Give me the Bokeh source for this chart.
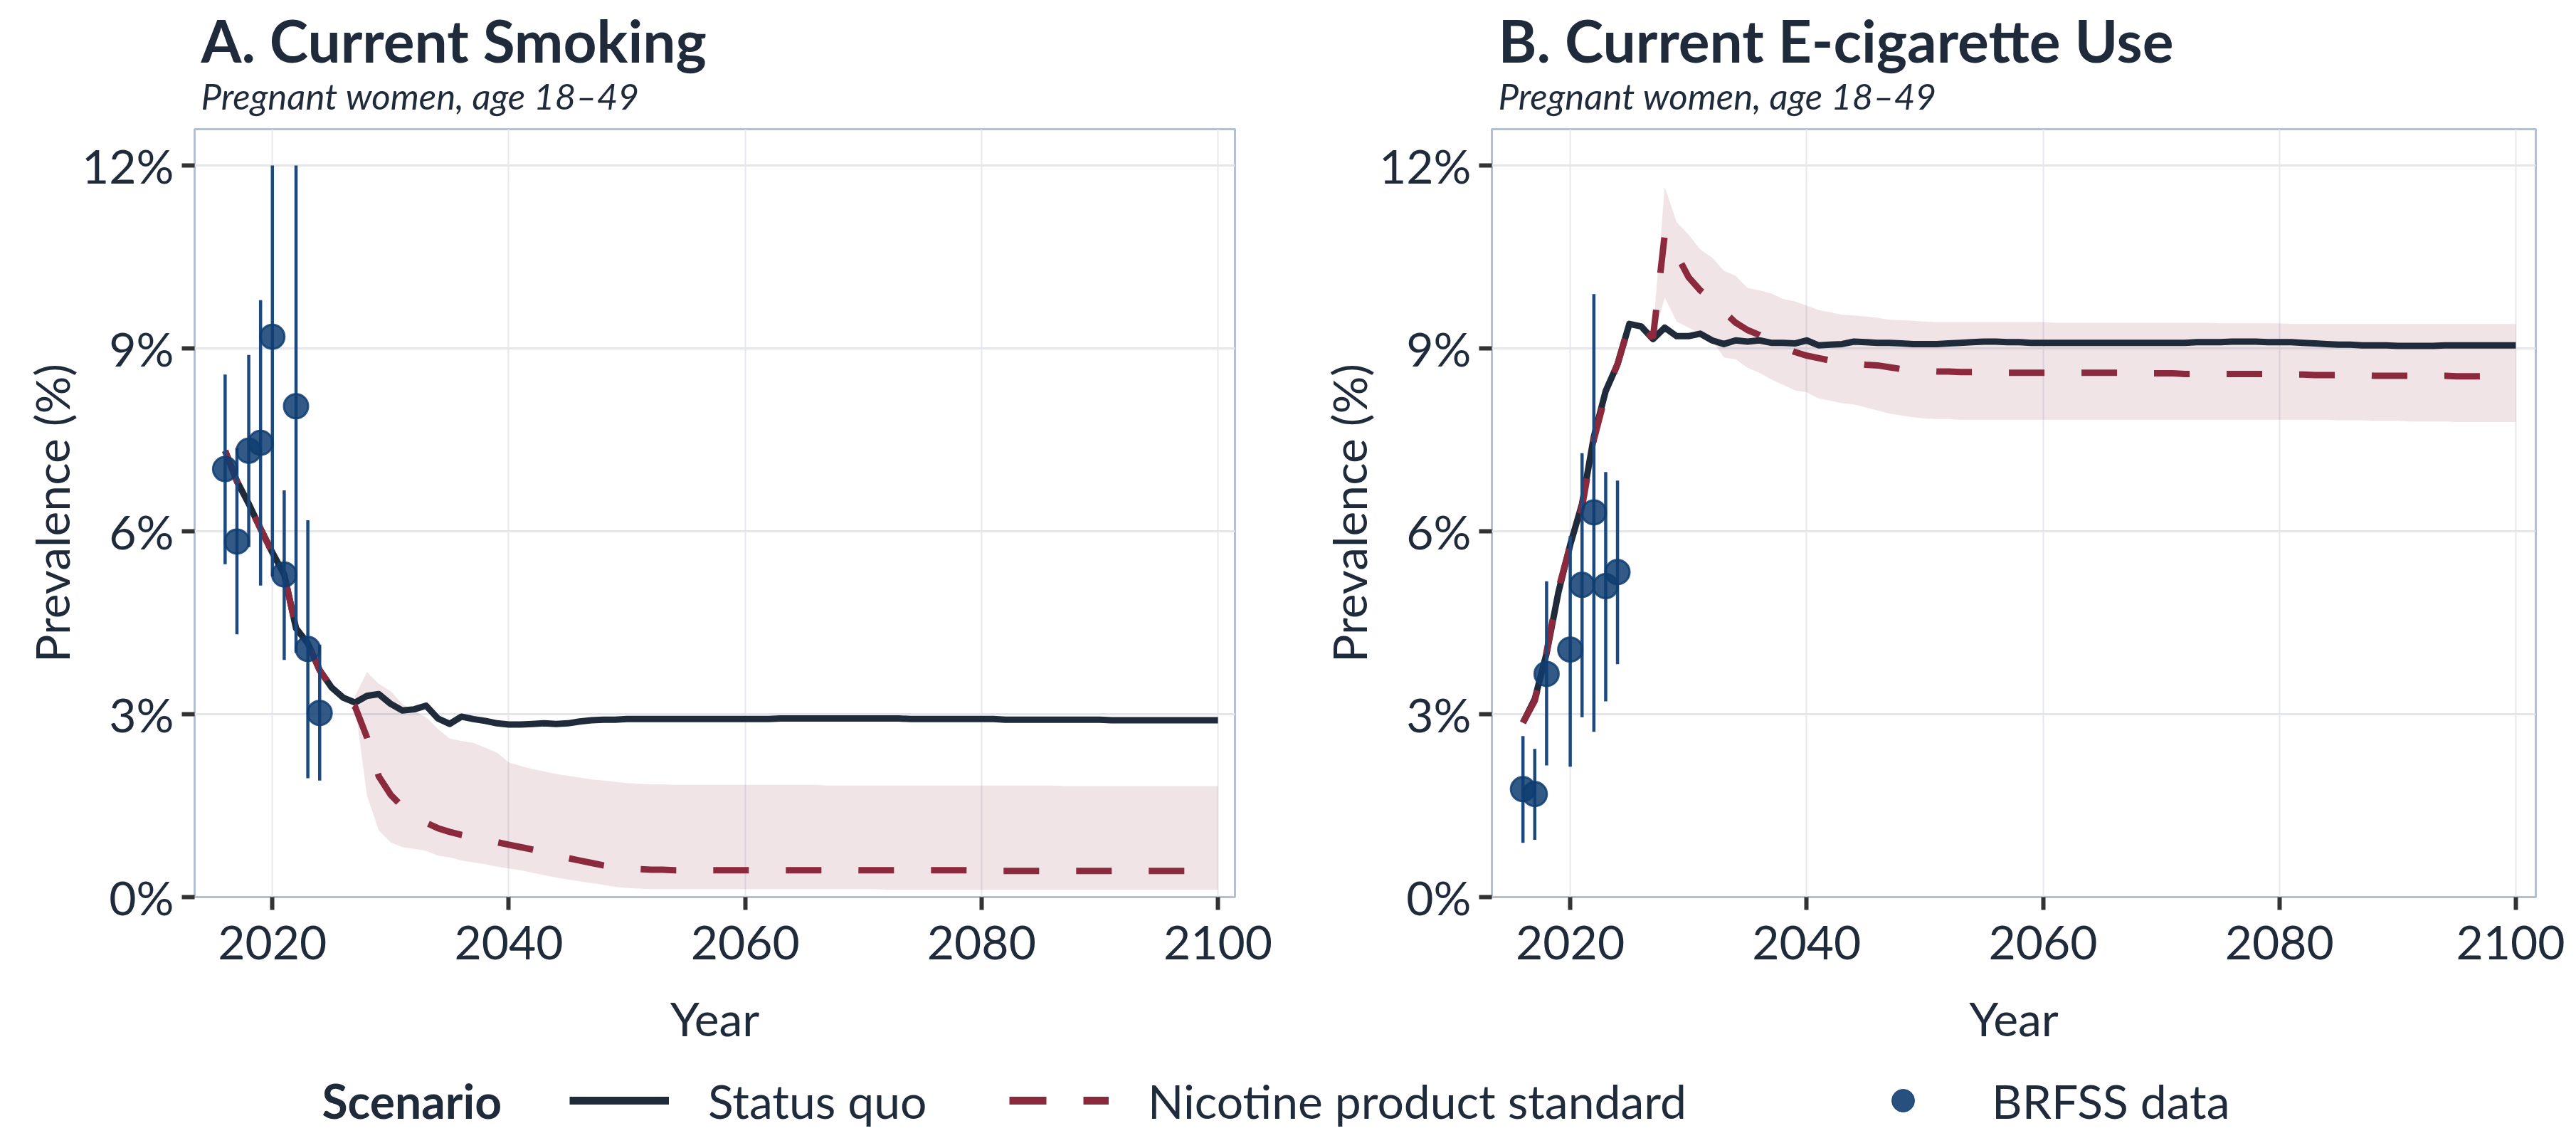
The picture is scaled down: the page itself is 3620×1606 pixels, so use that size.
from bokeh.plotting import figure
from bokeh.models import (Range1d, FixedTicker, PrintfTickFormatter, Title, Legend,
                          LegendItem, Label)
from bokeh.layouts import column, row
from bokeh.embed import file_html
from bokeh.resources import INLINE

# ---------------- data ----------------
years = list(range(2016, 2101))
band_years = list(range(2027, 2101))
x_ticks = [2020, 2040, 2060, 2080, 2100]
y_ticks = [0, 3, 6, 9, 12]

sq_smoking = [
    7.32, 6.82, 6.45, 6.04, 5.65, 5.29, 4.41, 4.16, 3.72, 3.44,
    3.27, 3.19, 3.30, 3.33, 3.17, 3.06, 3.08, 3.14, 2.93, 2.84,
    2.96, 2.92, 2.89, 2.85, 2.83, 2.83, 2.84, 2.85, 2.84, 2.85,
    2.88, 2.90, 2.91, 2.91, 2.92, 2.92, 2.92, 2.92, 2.92, 2.92,
    2.92, 2.92, 2.92, 2.92, 2.92, 2.92, 2.92, 2.93, 2.93, 2.93,
    2.93, 2.93, 2.93, 2.93, 2.93, 2.93, 2.93, 2.93, 2.92, 2.92,
    2.92, 2.92, 2.92, 2.92, 2.92, 2.92, 2.91, 2.91, 2.91, 2.91,
    2.91, 2.91, 2.91, 2.91, 2.91, 2.90, 2.90, 2.90, 2.90, 2.90,
    2.90, 2.90, 2.90, 2.90, 2.90]
nps_smoking = [
    7.32, 6.82, 6.45, 6.04, 5.65, 5.29, 4.41, 4.16, 3.72, 3.44,
    3.27, 3.12, 2.62, 1.98, 1.68, 1.48, 1.34, 1.22, 1.13, 1.07,
    1.02, 0.98, 0.94, 0.90, 0.86, 0.82, 0.78, 0.74, 0.69, 0.64,
    0.60, 0.56, 0.52, 0.49, 0.47, 0.46, 0.45, 0.45, 0.44, 0.44,
    0.44, 0.44, 0.44, 0.44, 0.44, 0.44, 0.44, 0.44, 0.44, 0.44,
    0.44, 0.44, 0.44, 0.44, 0.44, 0.44, 0.44, 0.44, 0.44, 0.44,
    0.44, 0.44, 0.44, 0.44, 0.43, 0.43, 0.43, 0.43, 0.43, 0.43,
    0.43, 0.43, 0.43, 0.43, 0.43, 0.43, 0.43, 0.43, 0.43, 0.43,
    0.43, 0.43, 0.43, 0.43, 0.43]
smoking_lo = [
    3.12, 1.67, 1.09, 0.90, 0.82, 0.79, 0.76, 0.68, 0.65, 0.60,
    0.57, 0.54, 0.50, 0.47, 0.44, 0.40, 0.36, 0.32, 0.29, 0.26,
    0.23, 0.20, 0.17, 0.15, 0.14, 0.13, 0.13, 0.13, 0.13, 0.13,
    0.13, 0.13, 0.13, 0.13, 0.13, 0.13, 0.13, 0.13, 0.13, 0.13,
    0.13, 0.13, 0.13, 0.13, 0.13, 0.12, 0.12, 0.12, 0.12, 0.12,
    0.12, 0.12, 0.12, 0.12, 0.12, 0.12, 0.12, 0.12, 0.12, 0.12,
    0.12, 0.12, 0.12, 0.12, 0.12, 0.12, 0.12, 0.12, 0.12, 0.12,
    0.12, 0.12, 0.12, 0.12]
smoking_hi = [
    3.30, 3.69, 3.50, 3.38, 3.17, 3.05, 2.95, 2.76, 2.60, 2.56,
    2.53, 2.45, 2.37, 2.21, 2.15, 2.10, 2.06, 2.02, 1.99, 1.96,
    1.93, 1.91, 1.89, 1.87, 1.86, 1.85, 1.85, 1.84, 1.84, 1.84,
    1.84, 1.84, 1.84, 1.84, 1.84, 1.84, 1.84, 1.84, 1.84, 1.84,
    1.83, 1.83, 1.83, 1.83, 1.83, 1.83, 1.83, 1.83, 1.83, 1.83,
    1.83, 1.83, 1.83, 1.83, 1.83, 1.83, 1.83, 1.83, 1.83, 1.83,
    1.82, 1.82, 1.82, 1.82, 1.82, 1.82, 1.82, 1.82, 1.82, 1.82,
    1.82, 1.82, 1.82, 1.82]

brfss_smoking_years = [2016, 2017, 2018, 2019, 2020, 2021, 2022, 2023, 2024]
brfss_smoking = [7.02, 5.83, 7.32, 7.45, 9.19, 5.29, 8.05, 4.07, 3.02]
brfss_smoking_lo = [5.46, 4.31, 5.74, 5.11, 5.26, 3.89, 4.01, 1.95, 1.91]
brfss_smoking_hi = [8.57, 7.37, 8.89, 9.79, 12.0, 6.67, 12.0, 6.18, 4.14]

sq_ecig = [
    2.86, 3.25, 4.00, 5.00, 5.78, 6.45, 7.55, 8.30, 8.74, 9.40,
    9.36, 9.15, 9.34, 9.20, 9.20, 9.24, 9.13, 9.07, 9.13, 9.11,
    9.13, 9.09, 9.09, 9.08, 9.13, 9.05, 9.06, 9.07, 9.11, 9.10,
    9.09, 9.09, 9.08, 9.07, 9.07, 9.07, 9.08, 9.09, 9.10, 9.11,
    9.11, 9.10, 9.10, 9.09, 9.09, 9.09, 9.09, 9.09, 9.09, 9.09,
    9.09, 9.09, 9.09, 9.09, 9.09, 9.09, 9.09, 9.10, 9.10, 9.10,
    9.11, 9.11, 9.11, 9.10, 9.10, 9.10, 9.09, 9.08, 9.07, 9.06,
    9.06, 9.05, 9.05, 9.05, 9.04, 9.04, 9.04, 9.04, 9.05, 9.05,
    9.05, 9.05, 9.05, 9.05, 9.05]
nps_ecig = [
    2.86, 3.22, 4.02, 5.05, 5.77, 6.40, 7.50, 8.25, 8.74, 9.40,
    9.36, 9.17, 10.87, 10.54, 10.17, 9.95, 9.79, 9.60, 9.42, 9.30,
    9.22, 9.11, 9.02, 8.94, 8.88, 8.84, 8.80, 8.77, 8.75, 8.73,
    8.72, 8.69, 8.66, 8.64, 8.63, 8.62, 8.62, 8.61, 8.61, 8.61,
    8.60, 8.60, 8.60, 8.60, 8.60, 8.60, 8.60, 8.60, 8.60, 8.60,
    8.60, 8.60, 8.59, 8.59, 8.59, 8.59, 8.58, 8.58, 8.58, 8.58,
    8.58, 8.58, 8.58, 8.58, 8.57, 8.57, 8.57, 8.56, 8.56, 8.56,
    8.56, 8.56, 8.55, 8.55, 8.55, 8.55, 8.55, 8.55, 8.55, 8.54,
    8.54, 8.54, 8.54, 8.54, 8.54]
ecig_lo = [
    9.15, 9.83, 9.44, 9.34, 9.24, 9.13, 8.85, 8.82, 8.68, 8.60,
    8.49, 8.40, 8.31, 8.28, 8.18, 8.14, 8.10, 8.08, 8.03, 7.98,
    7.93, 7.90, 7.87, 7.85, 7.84, 7.84, 7.83, 7.83, 7.83, 7.83,
    7.83, 7.83, 7.83, 7.83, 7.83, 7.83, 7.83, 7.83, 7.83, 7.83,
    7.83, 7.83, 7.83, 7.83, 7.83, 7.83, 7.83, 7.83, 7.83, 7.83,
    7.83, 7.83, 7.83, 7.83, 7.83, 7.83, 7.83, 7.83, 7.82, 7.82,
    7.82, 7.81, 7.81, 7.81, 7.80, 7.80, 7.80, 7.80, 7.79, 7.79,
    7.79, 7.79, 7.79, 7.79]
ecig_hi = [
    9.28, 11.65, 11.07, 10.87, 10.62, 10.49, 10.27, 10.19, 9.99, 9.95,
    9.90, 9.81, 9.77, 9.70, 9.63, 9.59, 9.55, 9.54, 9.52, 9.50,
    9.47, 9.46, 9.45, 9.44, 9.43, 9.43, 9.43, 9.43, 9.43, 9.43,
    9.43, 9.43, 9.43, 9.43, 9.42, 9.42, 9.42, 9.42, 9.42, 9.42,
    9.42, 9.42, 9.42, 9.42, 9.42, 9.42, 9.42, 9.42, 9.41, 9.41,
    9.41, 9.41, 9.41, 9.41, 9.40, 9.40, 9.40, 9.40, 9.40, 9.40,
    9.40, 9.40, 9.40, 9.40, 9.40, 9.40, 9.40, 9.40, 9.40, 9.40,
    9.40, 9.40, 9.40, 9.40]

brfss_ecig_years = [2016, 2017, 2018, 2020, 2021, 2022, 2023, 2024]
brfss_ecig = [1.77, 1.69, 3.66, 4.06, 5.12, 6.31, 5.10, 5.33]
brfss_ecig_lo = [0.89, 0.94, 2.16, 2.14, 2.95, 2.71, 3.21, 3.82]
brfss_ecig_hi = [2.64, 2.43, 5.18, 5.92, 7.28, 9.89, 6.97, 6.83]

# ---------------- style ----------------
FONT = "Lato"
INK = "#1f2a3a"
RED = "#8b2a3c"
PT = "#0f3d71"
BAR = "#1c4a80"
TICK_PX = "66px"


def panel(title, subtitle, sq, nps, lo, hi, pyrs, pv, plo, phi, xr, w, bl, br):
    p = figure(width=w, height=1472, x_range=Range1d(*xr), y_range=Range1d(0, 12.594),
               output_backend="svg", toolbar_location=None,
               min_border_left=bl, min_border_right=br,
               min_border_top=181, min_border_bottom=210,
               background_fill_color="white", border_fill_color="white")
    p.outline_line_color = "#b4bfd1"
    p.outline_line_width = 3

    p.add_layout(Title(text=subtitle, align="left", text_font=FONT,
                       text_font_size="51px", text_font_style="italic",
                       text_color=INK, standoff=33, offset=9), "above")
    p.add_layout(Title(text=title, align="left", text_font=FONT,
                       text_font_size="82px", text_font_style="bold",
                       text_color=INK, standoff=-39, offset=9), "above")

    p.xaxis.ticker = FixedTicker(ticks=x_ticks)
    p.yaxis.ticker = FixedTicker(ticks=y_ticks)
    p.xgrid.ticker = FixedTicker(ticks=x_ticks)
    p.ygrid.ticker = FixedTicker(ticks=y_ticks)
    p.xaxis.formatter = PrintfTickFormatter(format="%d")
    p.yaxis.formatter = PrintfTickFormatter(format="%d%%")
    p.xgrid.grid_line_color = "#e6e8ee"
    p.xgrid.grid_line_width = 2
    p.ygrid.grid_line_color = "#e4e6ec"
    p.ygrid.grid_line_width = 3

    for ax in (p.xaxis[0], p.yaxis[0]):
        ax.axis_line_color = None
        ax.major_tick_line_color = "#333333"
        ax.major_tick_line_width = 6
        ax.major_tick_out = 18
        ax.major_tick_in = 0
        ax.minor_tick_line_color = None
        ax.major_label_text_font = FONT
        ax.major_label_text_font_size = TICK_PX
        ax.major_label_text_color = INK
        ax.axis_label_text_font = FONT
        ax.axis_label_text_font_size = TICK_PX
        ax.axis_label_text_font_style = "normal"
        ax.axis_label_text_color = INK
    p.xaxis.axis_label = "Year"
    p.yaxis.axis_label = "Prevalence (%)"
    p.xaxis.major_label_standoff = 22
    p.yaxis.major_label_standoff = 11
    p.xaxis.axis_label_standoff = 40
    p.yaxis.axis_label_standoff = 0

    p.varea(x=band_years, y1=lo, y2=hi, fill_color=RED, fill_alpha=0.125)
    p.line(years, sq, line_color=INK, line_width=9, line_join="round")
    p.line(years, nps, line_color=RED, line_width=9, line_dash="50 52")
    p.segment(x0=pyrs, y0=plo, x1=pyrs, y1=phi, line_color=BAR, line_width=4.5)
    p.scatter(pyrs, pv, size=34, fill_color=PT, line_color=PT,
              fill_alpha=0.85, line_alpha=0.85, line_width=3)
    return p


pA = panel("A. Current Smoking", "Pregnant women, age 18\u201349",
           sq_smoking, nps_smoking, smoking_lo, smoking_hi,
           brfss_smoking_years, brfss_smoking, brfss_smoking_lo, brfss_smoking_hi,
           (2013.42, 2101.44), 1802, 273, 67)
pB = panel("B. Current E-cigarette Use", "Pregnant women, age 18\u201349",
           sq_ecig, nps_ecig, ecig_lo, ecig_hi,
           brfss_ecig_years, brfss_ecig, brfss_ecig_lo, brfss_ecig_hi,
           (2013.37, 2101.69), 1802, 294, 41)

# ---------------- legend strip ----------------
LH = 118
pl = figure(width=3604, height=LH, x_range=Range1d(0, 3604), y_range=Range1d(0, LH),
            output_backend="svg", toolbar_location=None, min_border=0,
            x_axis_location=None, y_axis_location=None,
            background_fill_color="white", border_fill_color="white")
pl.outline_line_color = None
pl.grid.visible = False

r_sq = pl.line([-300, -200], [-300, -300], line_color=INK, line_width=11)
r_nps = pl.line([-300, -200], [-300, -300], line_color=RED, line_width=11, line_dash="52 52")
r_pt = pl.scatter([-300], [-300], size=34, fill_color=PT, line_color=PT,
                  fill_alpha=0.9, line_alpha=0.9)

leg_y = 4
for label, rend, lx in (("Status quo", r_sq, 800),
                        ("Nicotine product standard", r_nps, 1418),
                        ("BRFSS data", r_pt, 2604)):
    lg = Legend(items=[LegendItem(label=label, renderers=[rend])],
                location=(lx, leg_y), orientation="horizontal",
                glyph_width=140, glyph_height=80, label_height=80,
                label_standoff=55, padding=0, margin=0, spacing=0,
                label_text_font=FONT, label_text_font_size=TICK_PX,
                label_text_color=INK, border_line_color=None,
                background_fill_alpha=0)
    pl.add_layout(lg, "center")

pl.add_layout(Label(x=452, y=44, text="Scenario", text_font=FONT,
                    text_font_size=TICK_PX, text_font_style="bold",
                    text_color=INK, text_baseline="middle"))

layout = column(row(pA, pB), pl)
open("out.html", "w").write(file_html(layout, INLINE))
